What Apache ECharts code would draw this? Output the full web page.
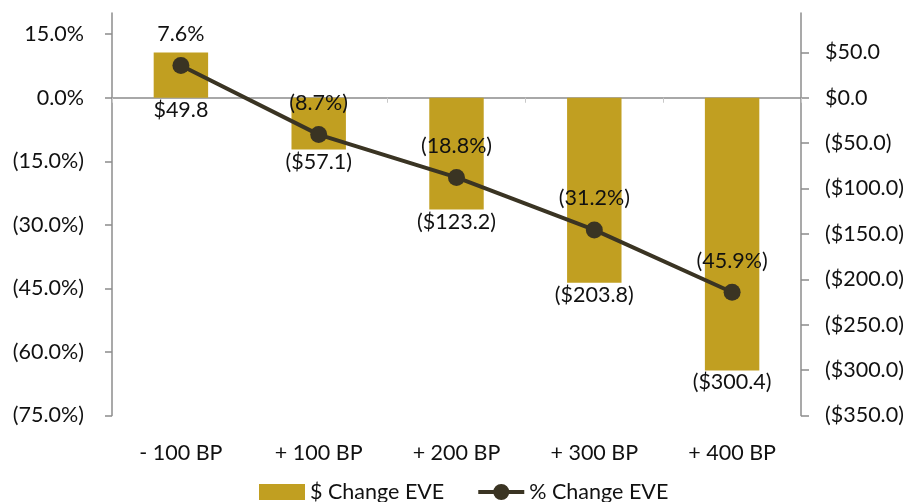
<!DOCTYPE html>
<html>
<head>
<meta charset="utf-8">
<script src="https://cdn.jsdelivr.net/npm/echarts@6/dist/echarts.min.js"></script>
<style>
  html, body { margin: 0; padding: 0; background: #fff; }
  #chart { width: 909px; height: 502px; }
</style>
</head>
<body>
<div id="chart"></div>
<script>
// Rate shock scenarios
var categories = ['- 100 BP', '+ 100 BP', '+ 200 BP', '+ 300 BP', '+ 400 BP'];
// Change in economic value of equity, $ millions
var dollarChange = [49.8, -57.1, -123.2, -203.8, -300.4];
// Change in economic value of equity, percent
var pctChange = [7.6, -8.7, -18.8, -31.2, -45.9];
// Axis tick values
var pctTicks = [-75, -60, -45, -30, -15, 0, 15];
var dollarTicks = [-350, -300, -250, -200, -150, -100, -50, 0, 50];

var FONT = 'Lato, "Liberation Sans", Arial, sans-serif';
var FS = 21.5;
var TEXT = '#111';
var AXIS = '#8c8c8c';
var GOLD = '#C19F21';
var DARK = '#3A3423';

// Legend marker for the line series: a bar of line with a dot in the middle
var LINE_MARKER = 'path://M0,6 H46 V10 H0 Z M15,8 A8,8 0 1,1 31,8 A8,8 0 1,1 15,8 Z';

// Left axis runs to 20%; right axis top keeps both zero lines level
var pctMin = -75, pctMax = 20;
var dollarMin = -350, dollarMax = dollarMin * pctMax / pctMin;

function fmtPct(v) {
  return v < 0 ? '(' + (-v).toFixed(1) + '%)' : v.toFixed(1) + '%';
}
function fmtDollar(v) {
  return v < 0 ? '($' + (-v).toFixed(1) + ')' : '$' + v.toFixed(1);
}

var chart = echarts.init(document.getElementById('chart'), null, { renderer: 'canvas' });
chart.setOption({
  animation: false,
  textStyle: { fontFamily: FONT },
  grid: { left: 112, right: 108, top: 13, bottom: 86.5, containLabel: false },
  legend: {
    left: 254,
    top: 476,
    itemWidth: 46,
    itemHeight: 16,
    itemGap: 34,
    textStyle: { fontFamily: FONT, fontSize: FS, color: TEXT },
    data: [
      { name: '$ Change EVE', icon: 'rect' },
      { name: '% Change EVE', icon: LINE_MARKER, itemStyle: { color: DARK, borderWidth: 0 } }
    ]
  },
  xAxis: [
    {
      // category labels along the bottom
      type: 'category',
      data: categories,
      position: 'bottom',
      axisLine: { show: false, onZero: false },
      axisTick: { show: false },
      axisLabel: { margin: 27, fontFamily: FONT, fontSize: FS, color: TEXT }
    },
    {
      // zero line with category dividers
      type: 'category',
      data: categories,
      position: 'bottom',
      axisLine: { show: true, onZero: true, onZeroAxisIndex: 0, lineStyle: { color: AXIS, width: 1.5 } },
      axisTick: { show: true, length: 5, lineStyle: { color: '#c8c8c8' } },
      axisLabel: { show: false }
    }
  ],
  yAxis: [
    {
      type: 'value',
      min: pctMin,
      max: pctMax,
      interval: 15,
      position: 'left',
      splitLine: { show: false },
      axisLine: { show: true, lineStyle: { color: AXIS, width: 1.5 } },
      axisTick: { show: true, length: 7, customValues: pctTicks, lineStyle: { color: AXIS, width: 1.5 } },
      axisLabel: {
        margin: 28, fontFamily: FONT, fontSize: FS, color: TEXT,
        customValues: pctTicks, formatter: fmtPct
      }
    },
    {
      type: 'value',
      min: dollarMin,
      max: dollarMax,
      interval: 50,
      position: 'right',
      splitLine: { show: false },
      axisLine: { show: true, lineStyle: { color: AXIS, width: 1.5 } },
      axisTick: { show: true, length: 8, customValues: dollarTicks, lineStyle: { color: AXIS, width: 1.5 } },
      axisLabel: {
        margin: 24, fontFamily: FONT, fontSize: FS, color: TEXT,
        customValues: dollarTicks, formatter: fmtDollar
      }
    }
  ],
  series: [
    {
      name: '$ Change EVE',
      type: 'bar',
      xAxisIndex: 0,
      yAxisIndex: 1,
      data: dollarChange,
      barWidth: '39.5%',
      itemStyle: { color: GOLD },
      label: {
        show: true,
        position: 'bottom',
        distance: 1,
        fontFamily: FONT,
        fontSize: FS,
        color: TEXT,
        formatter: function (p) { return fmtDollar(p.value); }
      },
      z: 2
    },
    {
      name: '% Change EVE',
      type: 'line',
      xAxisIndex: 0,
      yAxisIndex: 0,
      data: pctChange,
      symbol: 'circle',
      symbolSize: 17,
      lineStyle: { color: DARK, width: 4 },
      itemStyle: { color: DARK },
      label: {
        show: true,
        position: 'top',
        distance: 12,
        fontFamily: FONT,
        fontSize: FS,
        color: TEXT,
        formatter: function (p) { return fmtPct(p.value); }
      },
      z: 5
    }
  ]
});
</script>
</body>
</html>
